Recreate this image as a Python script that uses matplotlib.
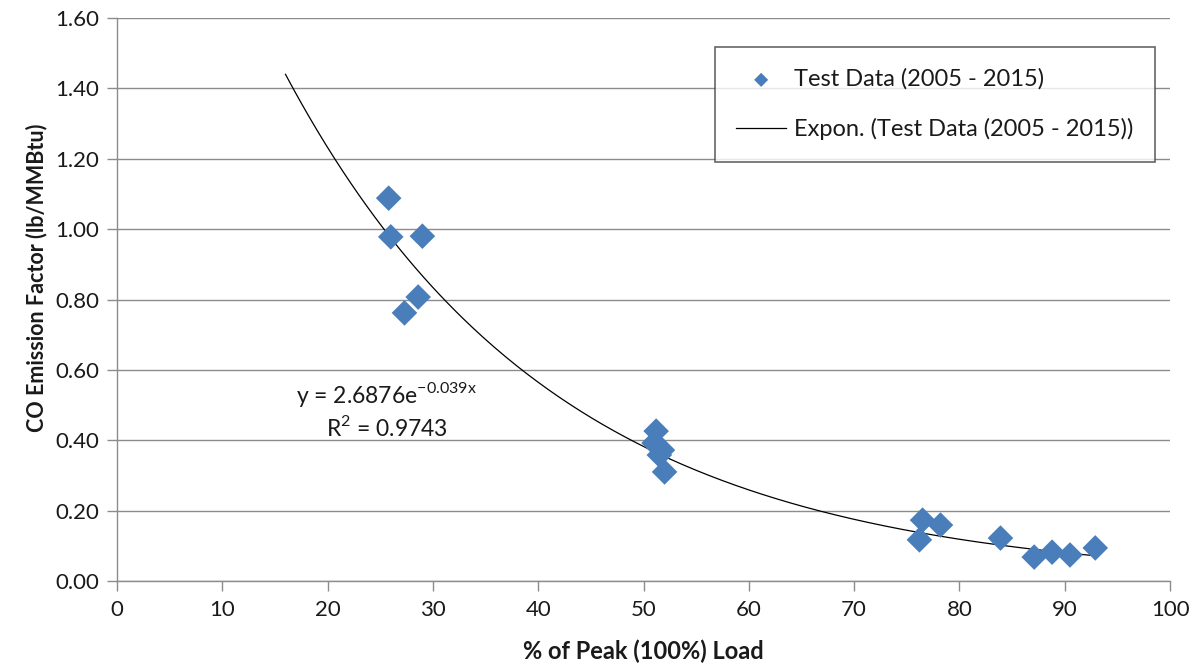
import numpy as np
import matplotlib
matplotlib.use("Agg")
import matplotlib.pyplot as plt

plt.rcParams['font.family'] = ['Lato', 'DejaVu Sans']

# Test data (% of peak load, CO emission factor lb/MMBtu)
load_pct = [25.8, 26.0, 29.0, 28.6, 27.3,
            51.2, 51.0, 51.8, 51.5, 52.0,
            76.5, 76.2, 78.2, 83.9, 87.1, 88.8, 90.5, 92.9]
co_factor = [1.088, 0.978, 0.980, 0.807, 0.762,
             0.426, 0.392, 0.372, 0.358, 0.310,
             0.173, 0.117, 0.159, 0.122, 0.068, 0.082, 0.074, 0.094]

# Exponential trendline y = a * exp(b x)
fit_a = 2.6876
fit_b = -0.039
fit_r2 = 0.9743
fit_range = (16.0, 93.0)

x_ticks = list(range(0, 101, 10))
y_ticks = [0.0, 0.2, 0.4, 0.6, 0.8, 1.0, 1.2, 1.4, 1.6]

fig = plt.figure(figsize=(11.95, 6.72), dpi=100)
ax = fig.add_axes([0.0979, 0.1354, 0.8812, 0.8378])

grid_c = '#8c8c8c'
text_c = '#1a1a1a'
ax.set_xlim(0, 100)
ax.set_ylim(0, 1.6)
ax.set_yticks(y_ticks)
ax.set_yticklabels([f"{v:.2f}" for v in y_ticks])
ax.set_xticks(x_ticks)
ax.set_xticklabels([str(v) for v in x_ticks])
ax.yaxis.grid(True, color=grid_c, linewidth=1.0)
ax.set_axisbelow(True)
for s in ['top', 'right']:
    ax.spines[s].set_visible(False)
for s in ['left', 'bottom']:
    ax.spines[s].set_color(grid_c)
    ax.spines[s].set_linewidth(1.0)
ax.tick_params(axis='both', colors=grid_c, length=7, width=1.0,
               labelcolor=text_c, labelsize=16)
ax.tick_params(axis='x', pad=7)
ax.tick_params(axis='y', pad=6)

xs = np.linspace(fit_range[0], fit_range[1], 300)
ax.plot(xs, fit_a * np.exp(fit_b * xs), color='black', linewidth=0.9,
        label='Expon. (Test Data (2005 - 2015))', zorder=2)
ax.scatter(load_pct, co_factor, marker='D', s=170, color='#4a7ebb',
           edgecolors='none', label='Test Data (2005 - 2015)', zorder=3)

ax.text(25.6, 0.53, r'y = 2.6876e$^{\mathregular{-0.039x}}$', ha='center',
        va='center', fontsize=16.5, color=text_c)
ax.text(25.6, 0.435, r'R$^{\mathregular{2}}$ = %.4f' % fit_r2, ha='center',
        va='center', fontsize=16.5, color=text_c)

handles, labels = ax.get_legend_handles_labels()
leg = ax.legend(handles[::-1], labels[::-1], loc='upper left',
                bbox_to_anchor=(0.568, 0.948), fontsize=17, frameon=True,
                fancybox=False, edgecolor='#404040', borderpad=0.9,
                labelspacing=1.2, handlelength=2.1, handletextpad=0.35,
                borderaxespad=0.0, markerscale=0.55)
leg.get_frame().set_linewidth(1.2)
for t in leg.get_texts():
    t.set_color(text_c)

ax.set_xlabel('% of Peak (100%) Load', fontsize=17, fontweight='bold',
              color=text_c, labelpad=14)
ax.set_ylabel('CO Emission Factor (lb/MMBtu)', fontsize=15.5,
              fontweight='bold', color=text_c)
ax.yaxis.set_label_coords(-0.076, 0.538)
ax.yaxis.label.set_verticalalignment('center')

fig.savefig('out.png', dpi=100, facecolor='white')
